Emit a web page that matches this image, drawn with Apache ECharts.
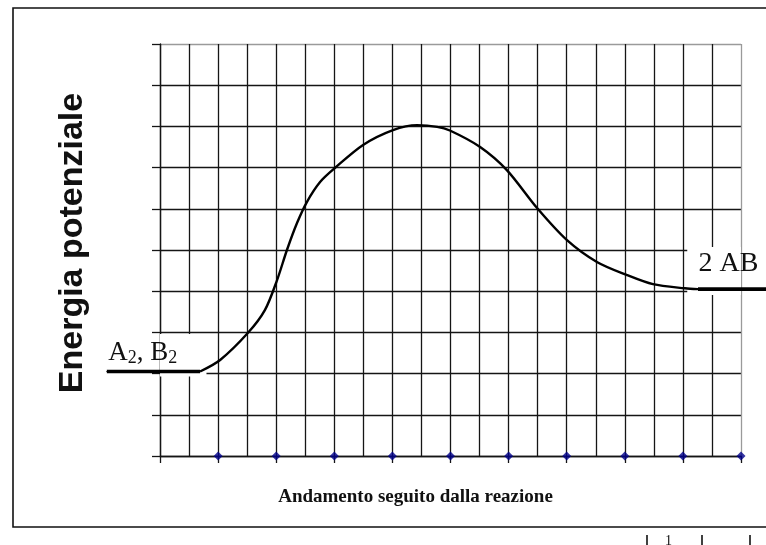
<!DOCTYPE html>
<html>
<head>
<meta charset="utf-8">
<script src="https://cdn.jsdelivr.net/npm/echarts@6/dist/echarts.min.js"></script>
<style>
  html, body { margin: 0; padding: 0; background: #fff; }
  #chart { width: 766px; height: 545px; }
</style>
</head>
<body>
<div id="chart"></div>
<script>
// reaction progress (x, grid units) and potential energy (y, grid units)
var curveX = [1.38, 2.07, 3.03, 3.61, 4.03, 4.37, 4.72, 5.06, 5.51, 6.02, 6.99, 8.02, 8.85, 9.54, 9.98, 11.02, 11.94, 12.98, 14.01, 15.04, 16.08, 16.97, 18.07, 18.52];
var curveY = [2.05, 2.33, 2.99, 3.54, 4.27, 5.0, 5.66, 6.17, 6.65, 6.99, 7.55, 7.91, 8.03, 7.99, 7.90, 7.50, 6.94, 6.02, 5.24, 4.71, 4.39, 4.17, 4.07, 4.05];

// reactant and product levels
var startX = [-1.83, 1.38];
var startY = [2.05, 2.05];
var endX = [18.52, 21.2];
var endY = [4.05, 4.05];

// blue markers on the bottom axis
var dotX = [2, 4, 6, 8, 10, 12, 14, 16, 18, 20];

function pairs(xs, ys) {
  return xs.map(function (x, i) { return [x, ys[i]]; });
}

var lineCol = '#151515';
var serif = '"Liberation Serif", "Times New Roman", serif';

// last split line (top / right edge) is lighter
function splitColors(n) {
  var c = [];
  for (var i = 0; i < n; i++) c.push(i === n - 1 ? '#9a9a9a' : lineCol);
  return c;
}

var startData = pairs(startX, startY);
startData[0] = {
  value: startData[0],
  label: {
    show: true,
    position: 'right',
    distance: 0,
    offset: [1, -19],
    formatter: '{a|A}{s|2}{a|, B}{s|2}',
    rich: {
      a: { fontFamily: serif, fontSize: 27, lineHeight: 30, color: '#111' },
      s: { fontFamily: serif, fontSize: 18, lineHeight: 18, verticalAlign: 'bottom', color: '#111' }
    }
  }
};

var endData = pairs(endX, endY);
endData[0] = {
  value: endData[0],
  label: {
    show: true,
    position: 'right',
    distance: 0,
    offset: [0, -25],
    formatter: '2 AB',
    fontFamily: serif,
    fontSize: 28,
    color: '#111'
  }
};

// thick level segments: [xFrom, xTo, y]
var levelRows = [
  [startX[0], startX[1], startY[0]],
  [endX[0], endX[1], endY[0]]
];

var chartDom = document.getElementById('chart');
var myChart = echarts.init(chartDom);
var option;

option = {
  animation: false,
  backgroundColor: '#fff',
  grid: { left: 160, right: 25, top: 44, bottom: 89 },
  xAxis: {
    type: 'value',
    min: 0,
    max: 20,
    interval: 2,
    name: 'Andamento seguito dalla reazione',
    nameLocation: 'middle',
    nameGap: 32,
    nameTextStyle: {
      fontFamily: serif,
      fontWeight: 'bold',
      fontSize: 19,
      color: '#111',
      padding: [0, 70, 0, 0]
    },
    axisLine: { show: true, lineStyle: { color: lineCol, width: 1.3 } },
    axisTick: { show: true, inside: false, length: 7, lineStyle: { color: lineCol, width: 1.3 } },
    axisLabel: { show: false },
    splitLine: { show: true, lineStyle: { color: splitColors(11), width: 1.3 } },
    minorTick: { show: false, splitNumber: 2 },
    minorSplitLine: { show: true, lineStyle: { color: lineCol, width: 1.3 } }
  },
  yAxis: {
    type: 'value',
    min: 0,
    max: 10,
    interval: 1,
    name: 'Energia potenziale',
    nameLocation: 'middle',
    nameRotate: 90,
    nameGap: 70,
    nameTextStyle: {
      fontFamily: '"Liberation Sans", Arial, sans-serif',
      fontWeight: 'bold',
      fontSize: 34,
      color: '#111',
      padding: [0, 0, 0, 14]
    },
    axisLine: { show: true, lineStyle: { color: lineCol, width: 1.3 } },
    axisTick: { show: true, inside: false, length: 8, lineStyle: { color: lineCol, width: 1.3 } },
    axisLabel: { show: false },
    splitLine: { show: true, lineStyle: { color: splitColors(11), width: 1.3 } }
  },
  graphic: [
    {
      type: 'rect',
      shape: { x: 13, y: 8, width: 800, height: 519 },
      style: { fill: 'none', stroke: '#111', lineWidth: 1.6 }
    },
    { type: 'line', shape: { x1: 647, y1: 535, x2: 647, y2: 545 }, style: { stroke: '#111', lineWidth: 1.6 } },
    { type: 'line', shape: { x1: 702, y1: 535, x2: 702, y2: 545 }, style: { stroke: '#111', lineWidth: 1.6 } },
    { type: 'line', shape: { x1: 750, y1: 535, x2: 750, y2: 545 }, style: { stroke: '#111', lineWidth: 1.6 } },
    {
      type: 'text',
      left: 665,
      top: 534,
      style: { text: '1', font: '14px "Liberation Serif"', fill: '#111' }
    }
  ],
  series: [
    {
      // white boxes behind the two level labels
      type: 'line',
      z: 1,
      data: startData.slice(1),
      symbol: 'none',
      lineStyle: { width: 0 },
      silent: true,
      markArea: {
        silent: true,
        itemStyle: { color: '#fff' },
        data: [
          [{ coord: [-2, 1.93] }, { coord: [1.6, 2.96] }],
          [{ coord: [18.15, 3.91] }, { coord: [21, 5.07] }]
        ]
      }
    },
    {
      type: 'line',
      z: 3,
      data: pairs(curveX, curveY),
      smooth: 0.3,
      symbol: 'none',
      clip: false,
      lineStyle: { color: '#000', width: 2.4 }
    },
    {
      type: 'custom',
      z: 3,
      clip: false,
      data: levelRows,
      encode: { x: [0, 1], y: 2 },
      renderItem: function (params, api) {
        var p1 = api.coord([api.value(0), api.value(2)]);
        var p2 = api.coord([api.value(1), api.value(2)]);
        return {
          type: 'line',
          shape: { x1: p1[0], y1: p1[1], x2: p2[0], y2: p2[1] },
          style: { stroke: '#000', lineWidth: 3.6 }
        };
      }
    },
    {
      // carries the A2, B2 label
      type: 'line',
      z: 3,
      data: startData,
      symbol: 'circle',
      symbolSize: 1,
      showSymbol: true,
      clip: false,
      itemStyle: { color: '#000' },
      lineStyle: { width: 0 }
    },
    {
      // carries the 2 AB label
      type: 'line',
      z: 3,
      data: endData,
      symbol: 'circle',
      symbolSize: 1,
      showSymbol: true,
      clip: false,
      itemStyle: { color: '#000' },
      lineStyle: { width: 0 }
    },
    {
      type: 'scatter',
      z: 4,
      data: dotX.map(function (x) { return [x, 0]; }),
      symbol: 'diamond',
      symbolSize: 9,
      clip: false,
      itemStyle: { color: '#00008b' }
    }
  ]
};

option && myChart.setOption(option);
</script>
</body>
</html>
